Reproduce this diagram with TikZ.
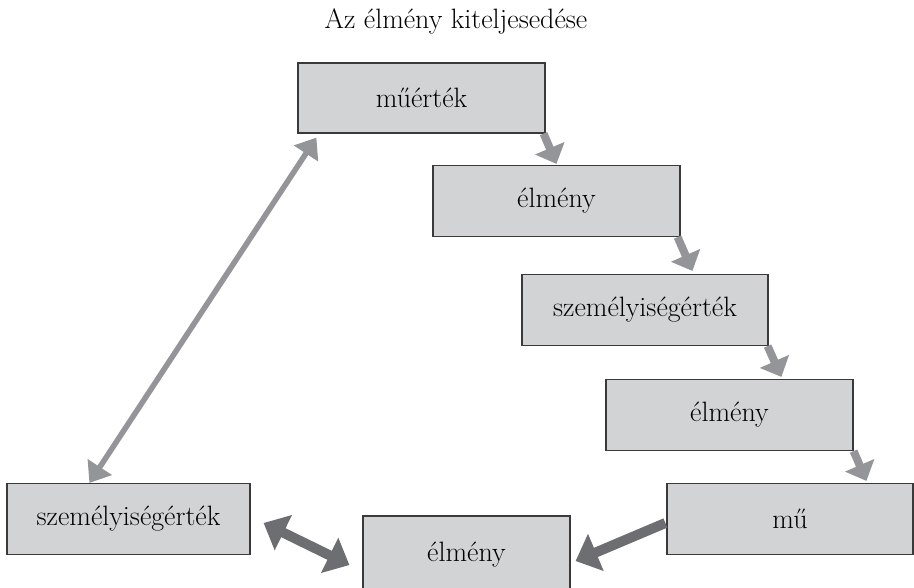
\documentclass[tikz,border=0pt]{standalone}
\usetikzlibrary{arrows.meta,calc}
\definecolor{boxfill}{HTML}{D1D3D4}
\definecolor{boxline}{HTML}{3A3A3A}
\definecolor{lightarr}{HTML}{939598}
\definecolor{darkarr}{HTML}{6D6E71}
\tikzset{
  stagebox/.style={draw=boxline, fill=boxfill, line width=1.2pt, rectangle, inner sep=0pt,
    minimum width=247pt, minimum height=71pt, font=\fontsize{28}{33}\selectfont},
  smallarr/.style={draw=lightarr, line width=8pt, -{Triangle[length=17pt,width=31pt]}},
  longarr/.style={draw=lightarr, line width=5.5pt, {Triangle[length=19pt,width=28pt]}-{Triangle[length=19pt,width=28pt]}},
  darkdbl/.style={draw=darkarr, line width=10pt, {Triangle[length=22pt,width=38pt]}-{Triangle[length=22pt,width=38pt]}},
  darkarrow/.style={draw=darkarr, line width=10pt, -{Triangle[length=22pt,width=39pt]}},
  titlestyle/.style={font=\fontsize{28}{33}\selectfont, inner sep=0pt}
}
\begin{document}
\begin{tikzpicture}[x=1pt,y=-1pt]
\useasboundingbox (0,0) rectangle (914,587);
\node[titlestyle, anchor=base] (title) at (456,28) {Az élmény kiteljesedése};
\node[stagebox, minimum height=70pt] (m1) at (421.5,98) {műérték};
\node[stagebox] (e2) at (556.5,201) {élmény};
\node[stagebox, minimum width=246pt] (sz3) at (645,310) {személyiségérték};
\node[stagebox] (e4) at (729.5,415) {élmény};
\node[stagebox, minimum width=246pt] (mu) at (790,519) {mű};
\node[stagebox, minimum width=243pt] (szl) at (128.5,519) {személyiségérték};
\node[stagebox, minimum width=207pt, minimum height=78pt] (e6) at (466.5,555) {élmény};
% short arrows
\draw[smallarr] ($(m1.south east)+(-2,0)$) -- ($(e2.north west)+(124,-1)$);
\draw[smallarr] ($(e2.south east)+(-3,0)$) -- ($(sz3.north west)+(171,-3)$);
\draw[smallarr] ($(sz3.south east)+(-1,0)$) -- ($(e4.north west)+(176,-2)$);
\draw[smallarr] ($(e4.south east)+(0,0)$) -- ($(mu.north west)+(200,-2)$);
% long double arrow
\draw[longarr] ($(szl.north west)+(83,0)$) -- ($(m1.south west)+(19,4)$);
% dark arrows
\draw[darkdbl] ($(szl.east)+(13,4)$) -- ($(e6.west)+(-13,10)$);
\draw[darkarrow] ($(mu.west)+(-1,4)$) -- ($(e6.east)+(5,6)$);
\end{tikzpicture}
\end{document}
